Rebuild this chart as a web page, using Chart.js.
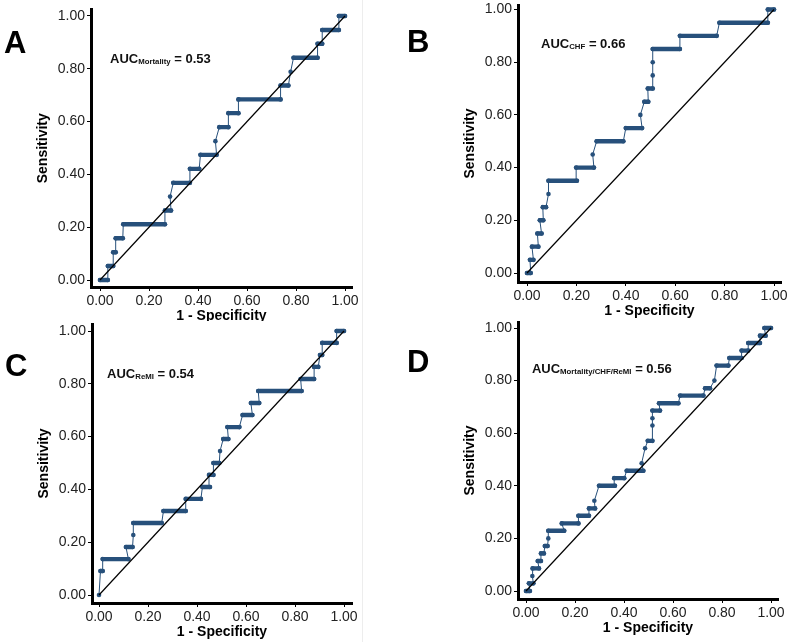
<!DOCTYPE html>
<html>
<head>
<meta charset="utf-8">
<script src="https://cdn.jsdelivr.net/npm/chart.js@4.4.1/dist/chart.umd.min.js"></script>
<style>
  body { margin: 0; width: 791px; height: 642px; overflow: hidden; background: #fff; position: relative; font-family: "Liberation Sans", Arial, sans-serif; }
  canvas { position: absolute; left: -30px; top: -30px; }
  .letra { position: absolute; font-weight: bold; font-size: 31px; line-height: 31px; color: #000; }
  #tapa { position: absolute; left: 0; top: 321px; width: 362px; height: 321px; background: #fff; }
  #borde { position: absolute; left: 362px; top: 0; width: 1px; height: 642px; background: #ededed; }
</style>
</head>
<body>
<canvas id="rocA" width="851" height="702" style="width:851px;height:702px"></canvas>
<canvas id="rocB" width="851" height="702" style="width:851px;height:702px"></canvas>
<div id="tapa"></div>
<div id="borde"></div>
<canvas id="rocC" width="851" height="702" style="width:851px;height:702px"></canvas>
<canvas id="rocD" width="851" height="702" style="width:851px;height:702px"></canvas>
<div class="letra" style="left:4px;top:27px">A</div>
<div class="letra" style="left:407px;top:26px">B</div>
<div class="letra" style="left:5px;top:350px">C</div>
<div class="letra" style="left:407px;top:346px">D</div>
<script>
const ticksRoc = [0, 0.2, 0.4, 0.6, 0.8, 1];
const aucSubs = ['Mortality', 'CHF', 'ReMI', 'Mortality/CHF/ReMI'];
const aucValues = [0.53, 0.66, 0.54, 0.56];
const diagX = [0, 1];
const diagY = [0, 1];

// A - mortalidad
const fprA = [0, 0.032, 0.032, 0.054, 0.054, 0.064, 0.064, 0.093, 0.095, 0.265, 0.265, 0.29, 0.286, 0.299, 0.367, 0.367, 0.405, 0.41, 0.476, 0.471, 0.487, 0.524, 0.524, 0.565, 0.565, 0.737, 0.737, 0.769, 0.778, 0.79, 0.888, 0.888, 0.907, 0.907, 0.975, 0.975, 1];
const tprA = [0, 0, 0.053, 0.053, 0.105, 0.105, 0.158, 0.158, 0.211, 0.211, 0.263, 0.263, 0.316, 0.368, 0.368, 0.421, 0.421, 0.474, 0.474, 0.526, 0.579, 0.579, 0.632, 0.632, 0.684, 0.684, 0.737, 0.737, 0.789, 0.842, 0.842, 0.895, 0.895, 0.947, 0.947, 1, 1];

// B - CHF
const fprB = [0, 0.015, 0.012, 0.026, 0.02, 0.046, 0.042, 0.059, 0.052, 0.066, 0.064, 0.077, 0.087, 0.087, 0.202, 0.199, 0.271, 0.266, 0.282, 0.39, 0.4, 0.466, 0.459, 0.475, 0.491, 0.489, 0.509, 0.509, 0.509, 0.509, 0.619, 0.619, 0.768, 0.779, 0.975, 0.975, 1];
const tprB = [0, 0, 0.05, 0.05, 0.1, 0.1, 0.15, 0.15, 0.2, 0.2, 0.25, 0.25, 0.3, 0.35, 0.35, 0.4, 0.4, 0.45, 0.5, 0.5, 0.55, 0.55, 0.6, 0.65, 0.65, 0.7, 0.7, 0.75, 0.8, 0.85, 0.85, 0.9, 0.9, 0.95, 0.95, 1, 1];

// C - ReMI
const fprC = [0, 0.006, 0.015, 0.015, 0.12, 0.11, 0.137, 0.14, 0.14, 0.256, 0.263, 0.354, 0.354, 0.416, 0.422, 0.453, 0.449, 0.467, 0.467, 0.491, 0.494, 0.507, 0.528, 0.524, 0.573, 0.586, 0.626, 0.62, 0.654, 0.65, 0.827, 0.823, 0.878, 0.878, 0.895, 0.902, 0.911, 0.911, 0.97, 0.97, 1];
const tprC = [0, 0.091, 0.091, 0.136, 0.136, 0.182, 0.182, 0.227, 0.273, 0.273, 0.318, 0.318, 0.364, 0.364, 0.409, 0.409, 0.455, 0.455, 0.5, 0.5, 0.545, 0.591, 0.591, 0.636, 0.636, 0.682, 0.682, 0.727, 0.727, 0.773, 0.773, 0.818, 0.818, 0.864, 0.864, 0.909, 0.909, 0.955, 0.955, 1, 1];

// D - combinado
const fprD = [0, 0.016, 0.012, 0.03, 0.026, 0.027, 0.053, 0.048, 0.061, 0.061, 0.073, 0.077, 0.088, 0.091, 0.091, 0.156, 0.146, 0.214, 0.214, 0.257, 0.257, 0.282, 0.279, 0.298, 0.363, 0.36, 0.401, 0.411, 0.479, 0.472, 0.486, 0.497, 0.516, 0.516, 0.516, 0.516, 0.547, 0.543, 0.622, 0.629, 0.724, 0.731, 0.751, 0.769, 0.778, 0.826, 0.83, 0.88, 0.88, 0.907, 0.907, 0.955, 0.955, 0.978, 0.973, 1];
const tprD = [0, 0, 0.029, 0.029, 0.057, 0.086, 0.086, 0.114, 0.114, 0.143, 0.143, 0.171, 0.171, 0.2, 0.229, 0.229, 0.257, 0.257, 0.286, 0.286, 0.314, 0.314, 0.343, 0.4, 0.4, 0.429, 0.429, 0.457, 0.457, 0.486, 0.543, 0.571, 0.571, 0.629, 0.657, 0.686, 0.686, 0.714, 0.714, 0.743, 0.743, 0.771, 0.771, 0.8, 0.857, 0.857, 0.886, 0.886, 0.914, 0.914, 0.943, 0.943, 0.971, 0.971, 1, 1];

const colorCurva = '#27507b';
const OFF = 30, ANCHO_Y = 60, ALTO_X = 38;

// marco de cada panel en pixeles de pagina (linea de ejes y posicion de 0 y 1)
const marcos = [
  { left: 91, right: 352, top: 9.5, bottom: 287, x0: 100, x1: 345, y0: 280, y1: 16, aucX: 0.041, aucY: 0.822 },
  { left: 518, right: 781, top: 5, bottom: 282, x0: 527, x1: 774, y0: 273, y1: 9.5, aucX: 0.057, aucY: 0.854 },
  { left: 92, right: 352, top: 324, bottom: 603, x0: 99, x1: 344, y0: 595, y1: 331, aucX: 0.033, aucY: 0.822 },
  { left: 518, right: 778, top: 322, bottom: 599, x0: 526, x1: 771, y0: 591, y1: 328, aucX: 0.024, aucY: 0.829 }
];

function etiquetaAuc(sub, valor, m) {
  return {
    id: 'etiquetaAuc',
    afterDatasetsDraw(chart) {
      const ctx = chart.ctx;
      const px = chart.scales.x.getPixelForValue(m.aucX);
      const py = chart.scales.y.getPixelForValue(m.aucY);
      ctx.save();
      ctx.fillStyle = '#111';
      ctx.textBaseline = 'alphabetic';
      ctx.font = 'bold 13px "Liberation Sans", Arial, sans-serif';
      ctx.fillText('AUC', px, py);
      let x = px + ctx.measureText('AUC').width;
      ctx.font = 'bold 7.8px "Liberation Sans", Arial, sans-serif';
      ctx.fillText(sub, x, py + 1);
      x += ctx.measureText(sub).width;
      ctx.font = 'bold 13px "Liberation Sans", Arial, sans-serif';
      ctx.fillText(' = ' + valor.toFixed(2), x, py);
      ctx.restore();
    }
  };
}

function crearPanel(id, fpr, tpr, m, sub, valor) {
  const W = 851, H = 702;
  const xMin = (m.left - m.x0) / (m.x1 - m.x0);
  const xMax = (m.right - m.x0) / (m.x1 - m.x0);
  const yMin = (m.y0 - m.bottom) / (m.y0 - m.y1);
  const yMax = (m.y0 - m.top) / (m.y0 - m.y1);
  const fuenteTick = { family: 'Liberation Sans', size: 14 };
  const fuenteTitulo = { family: 'Liberation Sans', size: 14, weight: 'bold' };

  new Chart(document.getElementById(id), {
    type: 'line',
    data: {
      datasets: [
        {
          data: diagX.map((v, i) => ({ x: v, y: diagY[i] })),
          borderColor: '#000',
          borderWidth: 1.2,
          pointRadius: 0
        },
        {
          data: fpr.map((v, i) => ({ x: v, y: tpr[i] })),
          borderColor: colorCurva,
          backgroundColor: colorCurva,
          borderWidth: 1,
          borderCapStyle: 'round',
          borderJoinStyle: 'round',
          pointRadius: 2.3,
          pointBorderWidth: 0,
          pointBackgroundColor: colorCurva,
          segment: {
            borderWidth: c => Math.abs(c.p0.y - c.p1.y) < 0.5 ? 4.4 : 1
          }
        }
      ]
    },
    options: {
      responsive: false,
      devicePixelRatio: 1,
      animation: false,
      events: [],
      layout: {
        padding: {
          left: m.left + OFF - ANCHO_Y,
          top: m.top + OFF,
          right: W - (m.right + OFF),
          bottom: H - (m.bottom + OFF) - ALTO_X
        }
      },
      plugins: { legend: { display: false }, tooltip: { enabled: false } },
      scales: {
        x: {
          type: 'linear',
          min: xMin,
          max: xMax,
          afterBuildTicks: s => { s.ticks = ticksRoc.map(v => ({ value: v })); },
          afterFit: s => { s.height = ALTO_X; },
          border: { display: true, color: '#000', width: 3 },
          grid: { display: true, drawOnChartArea: false, drawTicks: true, tickLength: 4, color: '#000', lineWidth: 1 },
          ticks: { padding: 2, color: '#222', font: fuenteTick, autoSkip: false, maxRotation: 0, callback: v => Number(v).toFixed(2) },
          title: { display: true, text: '1 - Specificity', color: '#000', font: fuenteTitulo, padding: { top: 0, bottom: 0 } }
        },
        y: {
          min: yMin,
          max: yMax,
          afterBuildTicks: s => { s.ticks = ticksRoc.map(v => ({ value: v })); },
          afterFit: s => { s.width = ANCHO_Y; },
          border: { display: true, color: '#000', width: 3 },
          grid: { display: true, drawOnChartArea: false, drawTicks: true, tickLength: 4, color: '#000', lineWidth: 1 },
          ticks: { padding: 2, color: '#222', font: fuenteTick, autoSkip: false, callback: v => Number(v).toFixed(2) },
          title: { display: true, text: 'Sensitivity', color: '#000', font: fuenteTitulo, padding: { top: 3.5, bottom: 0 } }
        }
      }
    },
    plugins: [etiquetaAuc(sub, valor, m)]
  });
}

crearPanel('rocA', fprA, tprA, marcos[0], aucSubs[0], aucValues[0]);
crearPanel('rocB', fprB, tprB, marcos[1], aucSubs[1], aucValues[1]);
crearPanel('rocC', fprC, tprC, marcos[2], aucSubs[2], aucValues[2]);
crearPanel('rocD', fprD, tprD, marcos[3], aucSubs[3], aucValues[3]);
</script>
</body>
</html>
